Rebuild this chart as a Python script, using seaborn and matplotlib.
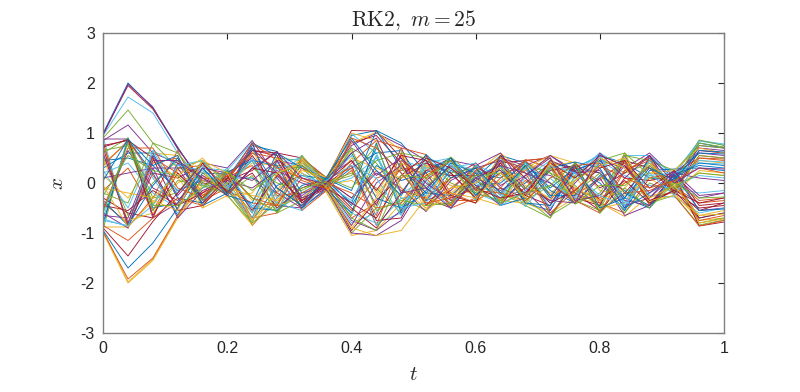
import numpy as np
import pandas as pd
import matplotlib
matplotlib.use('Agg')
import matplotlib.pyplot as plt
import seaborn as sns

# time grid, m = 25 steps on [0, 1]
t_steps = [0.00, 0.04, 0.08, 0.12, 0.16, 0.20, 0.24, 0.28, 0.32, 0.36, 0.40, 0.44, 0.48,
           0.52, 0.56, 0.60, 0.64, 0.68, 0.72, 0.76, 0.80, 0.84, 0.88, 0.92, 0.96, 1.00]

# trajectories (one row per run)
x_wide = [
    [1.00, 2.00, 1.50, 0.72, -0.05, 0.10, 0.80, 0.55, -0.30, 0.05, 0.95, 1.05, 0.80, 0.20, -0.45, 0.10, 0.55, 0.40, -0.10, 0.30, 0.55, 0.40, 0.10, 0.05, 0.80, 0.70],
    [0.98, 1.95, 1.48, 0.70, 0.00, -0.05, 0.65, 0.60, 0.50, 0.10, 1.05, 1.04, 0.50, -0.30, -0.50, 0.05, 0.40, 0.45, 0.50, -0.20, -0.55, -0.20, 0.35, -0.10, -0.55, -0.40],
    [0.95, 1.72, 1.40, 0.60, -0.10, 0.05, -0.45, -0.55, 0.20, -0.05, -0.60, -0.80, -0.60, 0.40, 0.50, -0.20, -0.40, 0.10, 0.45, 0.20, -0.30, 0.55, 0.55, 0.15, 0.85, 0.78],
    [0.90, 1.46, 0.80, 0.30, 0.20, -0.15, -0.80, -0.40, 0.40, 0.12, 0.70, 0.40, -0.30, -0.55, 0.20, 0.30, -0.20, -0.45, -0.70, 0.05, 0.45, 0.60, -0.40, 0.00, -0.80, -0.70],
    [0.85, 1.16, 0.60, 0.40, -0.30, 0.20, 0.50, -0.20, -0.50, -0.10, -1.00, -1.05, -0.75, 0.05, 0.45, 0.35, 0.60, -0.10, -0.35, -0.40, 0.10, -0.65, -0.45, 0.20, 0.60, 0.55],
    [-1.00, -2.00, -1.55, -0.70, 0.05, -0.10, -0.75, -0.20, 0.50, -0.05, -0.90, -1.05, -0.95, -0.30, 0.35, -0.30, -0.45, 0.30, 0.55, 0.40, -0.50, -0.40, 0.20, 0.25, 0.70, 0.60],
    [-0.98, -1.92, -1.50, -0.65, 0.10, 0.05, 0.80, 0.45, -0.55, -0.15, 0.40, 0.85, 0.70, 0.57, -0.20, -0.40, 0.10, 0.45, 0.00, -0.35, -0.60, 0.25, 0.50, -0.25, -0.86, -0.75],
    [-0.95, -1.70, -1.20, -0.50, 0.30, -0.25, -0.40, 0.60, 0.30, 0.08, 0.60, -0.30, -0.50, -0.20, 0.40, 0.20, -0.45, -0.30, 0.30, 0.42, 0.30, -0.50, -0.20, 0.10, 0.40, 0.35],
    [-0.90, -1.46, -0.77, -0.20, 0.40, -0.20, 0.30, 0.20, -0.40, 0.00, -0.50, -0.90, -0.20, 0.50, 0.30, -0.10, -0.30, -0.20, 0.40, 0.10, 0.55, 0.35, -0.35, -0.15, -0.40, -0.30],
    [-0.85, -1.15, -0.70, -0.30, -0.45, 0.15, 0.60, 0.30, 0.10, -0.12, 0.90, 0.70, 0.20, -0.40, -0.30, 0.25, 0.50, 0.20, -0.60, -0.15, 0.35, 0.10, -0.10, 0.05, 0.30, 0.20],
]
x_cross = [
    [0.80, -0.90, 0.40, 0.50, -0.20, 0.25, -0.85, -0.30, 0.45, 0.05, -0.70, -0.40, 0.30, 0.20, -0.50, -0.30, 0.20, 0.30, -0.25, 0.25, -0.40, -0.60, 0.10, 0.20, 0.50, 0.45],
    [-0.80, 0.90, -0.50, -0.40, 0.30, -0.20, 0.75, 0.63, -0.20, -0.08, 0.30, 0.60, 0.65, -0.10, -0.40, 0.15, 0.35, -0.40, -0.55, 0.30, 0.20, -0.30, -0.50, 0.10, -0.70, -0.60],
    [0.70, -0.85, 0.20, 0.10, 0.35, -0.10, 0.20, -0.50, -0.10, 0.10, 0.80, 0.95, 0.40, -0.45, 0.10, 0.40, -0.10, -0.30, 0.35, -0.30, -0.45, 0.45, 0.30, -0.20, 0.65, 0.60],
    [-0.70, 0.88, 0.10, -0.60, -0.10, 0.30, -0.60, 0.10, 0.55, -0.10, -0.80, -0.60, 0.45, 0.30, 0.30, -0.25, 0.30, 0.10, -0.40, 0.20, 0.60, 0.30, -0.25, -0.28, -0.60, -0.50],
    [0.60, 0.90, -0.30, -0.20, 0.45, 0.00, 0.45, -0.60, -0.35, 0.02, 0.20, -0.10, -0.60, 0.10, 0.52, 0.10, -0.40, 0.40, 0.20, -0.42, -0.20, 0.55, 0.45, 0.25, 0.75, 0.70],
    [-0.60, -0.90, 0.30, 0.30, -0.40, 0.10, 0.70, 0.20, -0.25, 0.06, -0.30, 0.20, -0.10, -0.57, 0.05, 0.30, 0.45, -0.15, -0.65, 0.00, 0.50, -0.45, -0.30, 0.15, -0.30, -0.20],
    [0.50, -0.75, -0.60, 0.00, 0.25, -0.28, -0.20, 0.50, 0.20, -0.18, 0.50, 0.30, 0.10, 0.35, -0.25, -0.40, 0.05, 0.25, 0.50, -0.10, -0.35, -0.10, 0.40, -0.05, 0.20, 0.15],
    [-0.50, 0.70, 0.70, -0.10, -0.30, 0.20, -0.30, -0.45, 0.30, 0.00, -0.20, -0.50, -0.40, 0.15, 0.45, -0.15, -0.20, -0.35, 0.10, 0.35, 0.40, -0.20, -0.15, 0.05, -0.75, -0.65],
]
x_center = [
    [0.40, 0.80, -0.40, 0.25, 0.15, -0.05, 0.40, 0.35, -0.55, 0.08, 0.65, -0.20, 0.55, -0.20, -0.20, 0.20, 0.60, 0.20, -0.20, 0.15, -0.55, 0.00, 0.20, 0.10, 0.45, 0.40],
    [-0.40, -0.80, 0.50, 0.20, -0.25, 0.15, -0.70, -0.60, 0.10, -0.05, -0.55, 0.10, 0.25, 0.45, -0.35, -0.35, -0.10, 0.47, 0.30, -0.25, 0.10, 0.40, -0.40, -0.15, 0.55, 0.50],
    [0.30, 0.60, 0.60, -0.30, -0.40, 0.10, 0.10, -0.20, 0.35, 0.04, -0.40, 0.70, 0.20, -0.35, 0.25, 0.05, -0.30, 0.00, 0.40, 0.30, 0.00, -0.55, 0.25, 0.28, 0.30, 0.25],
    [-0.30, -0.60, -0.70, 0.40, 0.10, -0.15, 0.55, -0.10, -0.45, -0.02, 0.35, -0.75, -0.70, 0.25, 0.15, 0.15, 0.25, -0.25, -0.45, 0.40, -0.10, 0.20, 0.55, -0.20, -0.50, -0.45],
    [0.20, 0.40, -0.20, -0.50, 0.30, 0.25, -0.50, 0.40, 0.50, -0.06, 0.10, 0.50, -0.20, 0.05, -0.52, 0.35, 0.15, -0.47, 0.10, -0.35, 0.45, 0.15, -0.05, -0.10, -0.20, -0.15],
    [-0.20, -0.40, 0.80, 0.60, 0.00, -0.20, 0.30, 0.00, -0.15, 0.10, -0.10, 0.45, 0.60, 0.50, 0.00, -0.20, -0.35, 0.35, 0.20, -0.05, -0.50, 0.60, 0.15, 0.00, 0.86, 0.75],
    [0.10, 0.20, 0.30, -0.70, -0.15, 0.05, -0.10, 0.25, 0.00, -0.14, -0.85, 0.00, 0.35, -0.10, 0.35, -0.05, -0.45, 0.15, 0.55, 0.20, 0.25, -0.35, -0.45, 0.20, 0.10, 0.05],
    [-0.10, -0.20, -0.30, 0.15, 0.50, -0.10, -0.25, -0.35, 0.25, 0.12, 1.00, 0.85, -0.10, -0.50, -0.10, 0.00, 0.30, -0.05, -0.30, 0.05, 0.35, 0.50, -0.35, -0.25, -0.65, -0.55],
]
x_band = [
    [0.88, 0.88, -0.70, -0.40, 0.40, 0.30, 0.85, 0.10, -0.50, 0.07, 0.75, 1.00, 0.75, 0.45, 0.20, -0.30, 0.50, 0.35, 0.55, 0.25, 0.45, 0.30, 0.60, 0.12, 0.70, 0.65],
    [-0.88, -0.88, 0.60, 0.55, -0.50, -0.25, -0.84, -0.15, 0.55, -0.20, -1.05, -0.95, -0.40, 0.40, -0.45, 0.40, -0.20, -0.40, -0.60, -0.30, -0.40, -0.67, -0.25, -0.20, -0.75, -0.70],
    [0.82, -0.88, -0.30, 0.65, -0.35, -0.10, 0.60, 0.50, 0.05, -0.12, 0.25, -0.65, 0.60, -0.45, -0.10, 0.30, -0.35, -0.10, 0.40, -0.15, -0.30, 0.00, 0.30, -0.08, -0.40, -0.35],
    [-0.82, 0.86, 0.20, -0.65, 0.20, 0.18, -0.50, -0.55, -0.05, 0.09, -0.45, 0.35, 0.05, 0.20, 0.50, -0.05, 0.00, 0.40, -0.15, -0.40, 0.15, -0.15, -0.50, 0.18, 0.35, 0.30],
    [0.75, 0.85, 0.50, -0.55, -0.45, 0.05, 0.25, 0.63, -0.40, -0.04, -0.95, -0.35, 0.15, 0.55, -0.30, -0.10, 0.20, -0.20, 0.25, 0.35, -0.60, 0.10, 0.05, 0.15, -0.86, -0.78],
    [-0.75, -0.85, -0.45, 0.35, 0.45, -0.05, -0.70, 0.30, 0.40, 0.03, 0.55, -0.85, -0.30, -0.25, 0.40, 0.25, -0.25, 0.30, -0.50, 0.10, 0.60, -0.40, 0.45, -0.05, 0.15, 0.10],
    [0.65, 0.75, -0.55, 0.05, -0.05, -0.22, 0.15, -0.60, 0.55, 0.00, 0.15, 0.75, -0.45, -0.05, 0.30, -0.20, 0.55, -0.35, -0.05, -0.20, 0.20, -0.60, 0.00, -0.18, 0.55, 0.50],
    [-0.65, -0.70, 0.55, -0.25, 0.30, 0.20, 0.05, 0.45, -0.30, -0.09, 0.85, 0.15, 0.50, 0.00, -0.35, 0.10, -0.15, 0.15, 0.50, -0.35, -0.25, 0.35, -0.20, 0.22, -0.25, -0.20],
]
x_extra = [
    [0.55, -0.65, 0.00, 0.45, -0.25, 0.00, -0.60, 0.35, 0.30, -0.16, -0.65, 0.55, -0.55, 0.30, 0.45, -0.35, 0.35, -0.30, -0.70, 0.15, 0.50, 0.20, 0.40, -0.12, 0.80, 0.72],
    [-0.55, 0.65, -0.10, -0.35, 0.15, -0.18, 0.80, -0.45, -0.50, 0.11, 0.45, -0.45, 0.70, -0.35, -0.15, 0.35, -0.05, 0.25, 0.15, -0.10, -0.45, 0.55, -0.30, 0.25, -0.55, -0.50],
    [0.15, -0.30, 0.45, 0.10, -0.50, 0.28, -0.35, 0.15, 0.45, -0.03, 0.05, -0.25, 0.40, 0.15, -0.05, -0.25, 0.45, -0.45, 0.35, 0.42, -0.15, -0.25, 0.10, -0.22, 0.25, 0.20],
    [-0.15, 0.30, -0.55, 0.30, 0.35, 0.12, 0.35, -0.25, -0.20, 0.05, -0.30, 0.25, -0.15, -0.30, 0.10, 0.30, -0.40, 0.05, -0.35, 0.30, 0.05, 0.45, -0.45, 0.05, -0.35, -0.30],
    [0.45, 0.50, 0.35, -0.15, 0.05, -0.12, -0.75, -0.05, 0.15, 0.08, -0.15, 1.05, 0.30, -0.20, -0.25, 0.20, 0.10, 0.45, -0.25, -0.25, 0.40, -0.30, 0.50, 0.10, 0.60, 0.58],
    [-0.45, -0.55, -0.15, -0.45, -0.20, 0.08, 0.65, 0.55, -0.35, -0.11, -0.40, -0.70, 0.10, 0.40, 0.20, -0.30, 0.40, -0.25, 0.45, 0.25, -0.35, 0.05, -0.40, -0.15, -0.70, -0.60],
    [0.25, -0.50, 0.65, 0.35, 0.25, -0.08, 0.45, -0.40, -0.55, 0.06, 0.35, 0.10, -0.65, 0.50, 0.35, 0.00, -0.30, 0.40, 0.00, -0.30, 0.55, -0.45, 0.15, 0.20, 0.40, 0.38],
    [-0.25, 0.55, 0.25, 0.15, -0.35, 0.22, -0.15, 0.20, 0.35, -0.07, 0.70, -0.55, -0.35, -0.45, -0.40, 0.15, 0.20, -0.10, 0.30, -0.42, -0.05, -0.05, 0.35, -0.10, 0.20, 0.15],
]
x_more = [
    [0.92, -0.90, 0.55, -0.30, -0.40, 0.25, 0.82, -0.55, -0.20, 0.10, 0.98, 0.60, -0.50, 0.35, 0.40, -0.35, 0.50, -0.40, 0.25, 0.30, 0.55, -0.55, 0.50, 0.20, 0.84, 0.76],
    [-0.92, 0.90, -0.45, 0.30, 0.45, -0.25, -0.80, 0.50, 0.45, -0.15, -1.00, -0.50, 0.40, -0.40, -0.45, 0.35, -0.40, 0.35, -0.65, -0.35, -0.55, 0.50, -0.40, -0.25, -0.84, -0.74],
    [0.96, 1.98, 1.52, 0.68, 0.05, -0.08, -0.70, 0.45, 0.35, -0.06, -0.75, -0.95, -0.55, 0.25, 0.50, -0.15, 0.45, 0.30, -0.55, 0.35, 0.20, -0.50, 0.55, -0.20, 0.75, 0.70],
    [-0.96, -1.98, -1.52, -0.68, -0.05, 0.08, 0.70, -0.45, -0.30, 0.07, 0.80, 1.02, 0.65, -0.30, -0.45, 0.20, -0.35, -0.40, 0.45, -0.30, -0.30, 0.60, -0.40, 0.15, -0.80, -0.72],
    [0.35, 0.85, 0.15, -0.45, 0.40, -0.15, -0.40, -0.45, 0.50, 0.09, 0.30, -0.85, 0.45, 0.10, -0.45, 0.25, -0.25, 0.45, 0.50, -0.20, -0.40, 0.25, 0.45, -0.15, 0.50, 0.48],
    [-0.35, -0.85, -0.05, 0.50, -0.35, 0.22, 0.45, 0.35, -0.50, -0.13, -0.60, 0.80, -0.60, -0.15, 0.50, -0.25, 0.30, -0.40, -0.45, 0.25, 0.45, -0.20, -0.45, 0.18, -0.55, -0.52],
    [0.72, 0.87, -0.65, 0.20, -0.30, 0.15, -0.55, 0.15, -0.35, 0.02, 0.45, -0.15, 0.55, 0.45, -0.25, -0.40, 0.55, 0.10, -0.40, -0.15, 0.30, 0.45, -0.10, 0.25, -0.45, -0.40],
    [-0.72, -0.87, 0.65, -0.20, 0.35, -0.12, 0.50, -0.30, 0.15, -0.03, -0.35, 0.55, -0.50, -0.40, 0.30, 0.40, -0.45, -0.15, 0.35, 0.20, -0.25, -0.45, 0.20, -0.25, 0.45, 0.42],
    [0.05, 0.88, 0.35, 0.55, -0.45, -0.20, 0.70, -0.10, -0.45, 0.12, 0.90, 0.25, -0.25, 0.57, 0.10, 0.30, -0.20, 0.35, -0.30, 0.40, -0.50, -0.30, 0.30, 0.05, 0.65, 0.62],
    [-0.05, -0.88, -0.35, -0.55, 0.45, 0.20, -0.75, 0.20, 0.40, -0.10, -0.90, -0.30, 0.35, -0.55, -0.20, -0.30, 0.20, -0.30, 0.40, -0.40, 0.50, 0.30, -0.30, -0.05, -0.65, -0.62],
    [0.60, -0.80, 0.45, 0.45, 0.10, -0.25, 0.30, 0.62, 0.10, -0.02, 0.60, 0.90, -0.20, -0.10, -0.50, 0.10, 0.35, 0.20, 0.00, -0.40, 0.60, 0.10, 0.55, 0.00, 0.30, 0.28],
    [-0.60, 0.80, -0.45, -0.45, -0.10, 0.25, -0.30, -0.58, -0.10, 0.02, -0.70, -0.95, 0.15, 0.10, 0.45, -0.10, -0.40, -0.20, -0.05, 0.40, -0.60, -0.10, -0.50, 0.00, -0.30, -0.28],
]

x_ticks = [0, 0.2, 0.4, 0.6, 0.8, 1]
x_ticklabels = ['0', '0.2', '0.4', '0.6', '0.8', '1']
y_ticks = [-3, -2, -1, 0, 1, 2, 3]

# MATLAB default colour order
matlab_colors = ['#0072BD', '#D95319', '#EDB120', '#7E2F8E', '#77AC30', '#4DBEEE', '#A2142F']


# interleave the groups so the colours are mixed like in the original
runs = []
groups = [x_wide, x_cross, x_center, x_band, x_extra, x_more]
for k in range(max(len(g) for g in groups)):
	for g in groups:
		if k < len(g):
			runs.append(g[k])

frames = []
for i, xs in enumerate(runs):
	frames.append(pd.DataFrame({'t': t_steps, 'x': xs, 'run': i}))
df = pd.concat(frames, ignore_index=True)

palette = [matlab_colors[i % len(matlab_colors)] for i in range(len(runs))]


### PLOT ###
sns.set_style('white')
plt.rcParams['font.family'] = ['Liberation Sans', 'DejaVu Sans']
plt.rcParams['mathtext.fontset'] = 'cm'
plt.rcParams['axes.unicode_minus'] = False

fig = plt.figure(figsize=(8, 3.92), dpi=100)
ax = fig.add_axes([0.129, 0.1505, 0.776, 0.7653])

sns.lineplot(
	data=df,
	x='t',
	y='x',
	hue='run',
	palette=palette,
	estimator=None,
	sort=False,
	linewidth=0.65,
	legend=False,
	ax=ax,
)

ax.set(
	xlim=(0, 1),
	ylim=(-3, 3),
	xticks=x_ticks,
	yticks=y_ticks,
	xlabel='',
	ylabel='',
)
ax.set_xticklabels(x_ticklabels)
ax.tick_params(
	direction='in',
	length=4.5,
	width=0.8,
	color='#262626',
	labelsize=11.5,
	labelcolor='#262626',
	top=True,
	right=True,
	pad=6,
)
for sp in ax.spines.values():
	sp.set_color('#808080')
	sp.set_linewidth(1.0)

ax.set_title(r'$\mathrm{RK2,}\ m = 25$', fontsize=15.5, pad=5)
ax.set_xlabel(r'$t$', fontsize=15, labelpad=6)
ax.set_ylabel(r'$x$', fontsize=15, labelpad=10)

fig.savefig('out.png', dpi=100)
